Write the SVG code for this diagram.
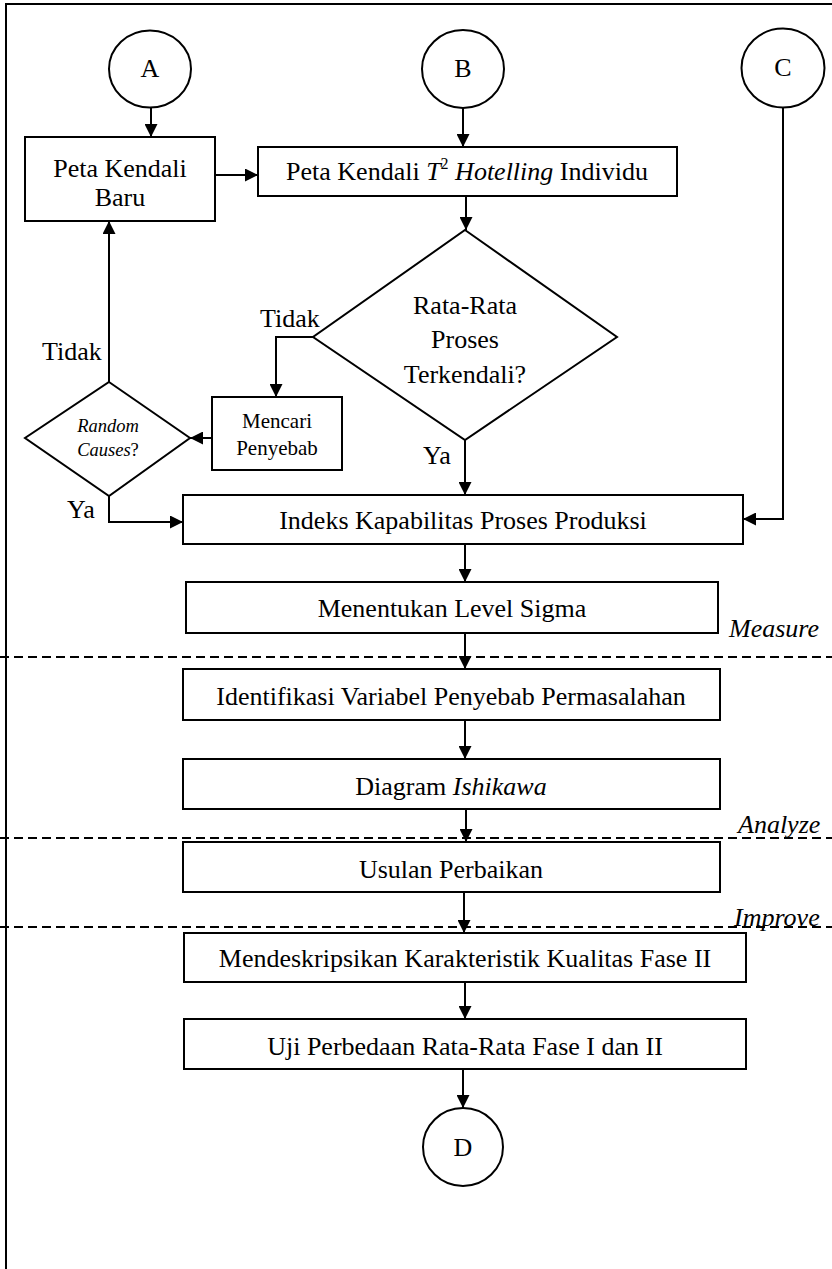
<svg xmlns="http://www.w3.org/2000/svg" width="832" height="1269" viewBox="0 0 832 1269">
  <style>
    .shape { fill: #fff; stroke: #000; stroke-width: 2; }
    .line { fill: none; stroke: #000; stroke-width: 2; }
    .arrow { fill: none; stroke: #000; stroke-width: 2; marker-end: url(#head); }
    .dash { fill: none; stroke: #000; stroke-width: 1.8; stroke-dasharray: 9 5; }
    .t { font-family: "Liberation Serif", "Times New Roman", serif; font-size: 26px; fill: #000; text-anchor: middle; }
    .lbl { font-family: "Liberation Serif", "Times New Roman", serif; font-size: 26px; fill: #000; }
    .it { font-style: italic; }
    .small { font-size: 21px; }
    .tiny { font-size: 18.5px; }
  </style>
  <defs>
    <marker id="head" viewBox="0 0 10 10" refX="10" refY="5" markerUnits="userSpaceOnUse" markerWidth="15" markerHeight="13" orient="auto">
      <path d="M0,0 L10,5 L0,10 Z" fill="#000"/>
    </marker>
  </defs>

  <rect width="832" height="1269" fill="#fff"/>

  <!-- page frame: left and top edges -->
  <g id="frame">
    <path class="line" d="M6,1269 V4 H832" stroke-width="2.5"/>
  </g>

  <!-- phase separators -->
  <g id="phases">
    <line class="dash" x1="0" y1="657" x2="832" y2="657"/>
    <line class="dash" x1="0" y1="838" x2="832" y2="838"/>
    <line class="dash" x1="0" y1="927" x2="832" y2="927"/>
    <text class="lbl it" x="729" y="637">Measure</text>
    <text class="lbl it" x="738" y="833">Analyze</text>
    <text class="lbl it" x="734" y="926">Improve</text>
  </g>

  <!-- connectors -->
  <g id="connectors">
    <line class="arrow" x1="151" y1="107" x2="151" y2="137"/>
    <line class="arrow" x1="463" y1="108" x2="463" y2="147"/>
    <line class="arrow" x1="215" y1="175" x2="258" y2="175"/>
    <line class="arrow" x1="466" y1="196" x2="466" y2="230"/>
    <path class="arrow" d="M313,337 H276 V397"/>
    <line class="arrow" x1="212" y1="438" x2="190" y2="438"/>
    <line class="arrow" x1="109" y1="382" x2="109" y2="221"/>
    <path class="arrow" d="M109,496 V522 H183"/>
    <line class="arrow" x1="465" y1="440" x2="465" y2="495"/>
    <path class="arrow" d="M783,107 V519 H743"/>
    <line class="arrow" x1="465" y1="544" x2="465" y2="582"/>
    <line class="arrow" x1="465" y1="633" x2="465" y2="669"/>
    <line class="arrow" x1="465" y1="720" x2="465" y2="759"/>
    <line class="arrow" x1="466" y1="809" x2="466" y2="842"/>
    <line class="arrow" x1="464" y1="892" x2="464" y2="933"/>
    <line class="arrow" x1="465" y1="982" x2="465" y2="1019"/>
    <line class="arrow" x1="463" y1="1069" x2="463" y2="1108"/>
    <text class="lbl" x="260" y="327">Tidak</text>
    <text class="lbl" x="42" y="360">Tidak</text>
    <text class="lbl" x="67" y="518">Ya</text>
    <text class="lbl" x="423" y="464">Ya</text>
  </g>

  <g id="node-a">
    <ellipse class="shape" cx="150" cy="69" rx="41" ry="38.5"/>
    <text class="t" x="150" y="77">A</text>
  </g>
  <g id="node-b">
    <ellipse class="shape" cx="463" cy="69" rx="41" ry="39"/>
    <text class="t" x="463" y="77">B</text>
  </g>
  <g id="node-c">
    <ellipse class="shape" cx="783" cy="68" rx="41.5" ry="39.5"/>
    <text class="t" x="783" y="76">C</text>
  </g>

  <g id="peta-baru">
    <rect class="shape" x="25" y="137" width="190" height="84"/>
    <text class="t" x="120" y="177">Peta Kendali</text>
    <text class="t" x="120" y="206">Baru</text>
  </g>

  <g id="peta-t2">
    <rect class="shape" x="258" y="147" width="419" height="49"/>
    <text class="t" x="467" y="180">Peta Kendali <tspan class="it">T</tspan><tspan font-size="16" dy="-11">2</tspan><tspan class="it" dy="11"> Hotelling</tspan> Individu</text>
  </g>

  <g id="decision-mean">
    <polygon class="shape" points="465,230 617,337 465,440 313,337"/>
    <text class="t" x="465" y="314">Rata-Rata</text>
    <text class="t" x="465" y="348">Proses</text>
    <text class="t" x="465" y="383">Terkendali?</text>
  </g>

  <g id="find-cause">
    <rect class="shape" x="212" y="397" width="130" height="73"/>
    <text class="t small" x="277" y="428">Mencari</text>
    <text class="t small" x="277" y="455">Penyebab</text>
  </g>

  <g id="decision-random">
    <polygon class="shape" points="109,382 190,438 109,496 25,438"/>
    <text class="t tiny it" x="108" y="432">Random</text>
    <text class="t tiny" x="108" y="456"><tspan class="it">Causes</tspan>?</text>
  </g>

  <g id="capability">
    <rect class="shape" x="183" y="495" width="560" height="49"/>
    <text class="t" x="463" y="529">Indeks Kapabilitas Proses Produksi</text>
  </g>

  <g id="sigma">
    <rect class="shape" x="186" y="582" width="532" height="51"/>
    <text class="t" x="452" y="617">Menentukan Level Sigma</text>
  </g>

  <g id="identify">
    <rect class="shape" x="183" y="669" width="537" height="51"/>
    <text class="t" x="451" y="705">Identifikasi Variabel Penyebab Permasalahan</text>
  </g>

  <g id="ishikawa">
    <rect class="shape" x="183" y="759" width="537" height="50"/>
    <text class="t" x="451" y="795">Diagram <tspan class="it">Ishikawa</tspan></text>
  </g>

  <g id="improvement">
    <rect class="shape" x="183" y="842" width="537" height="50"/>
    <text class="t" x="451" y="878">Usulan Perbaikan</text>
  </g>

  <g id="describe">
    <rect class="shape" x="184" y="933" width="562" height="49"/>
    <text class="t" x="465" y="967">Mendeskripsikan Karakteristik Kualitas Fase II</text>
  </g>

  <g id="mean-test">
    <rect class="shape" x="184" y="1019" width="562" height="50"/>
    <text class="t" x="465" y="1055">Uji Perbedaan Rata-Rata Fase I dan II</text>
  </g>

  <g id="node-d">
    <ellipse class="shape" cx="463" cy="1147" rx="40" ry="39"/>
    <text class="t" x="463" y="1156">D</text>
  </g>
</svg>
